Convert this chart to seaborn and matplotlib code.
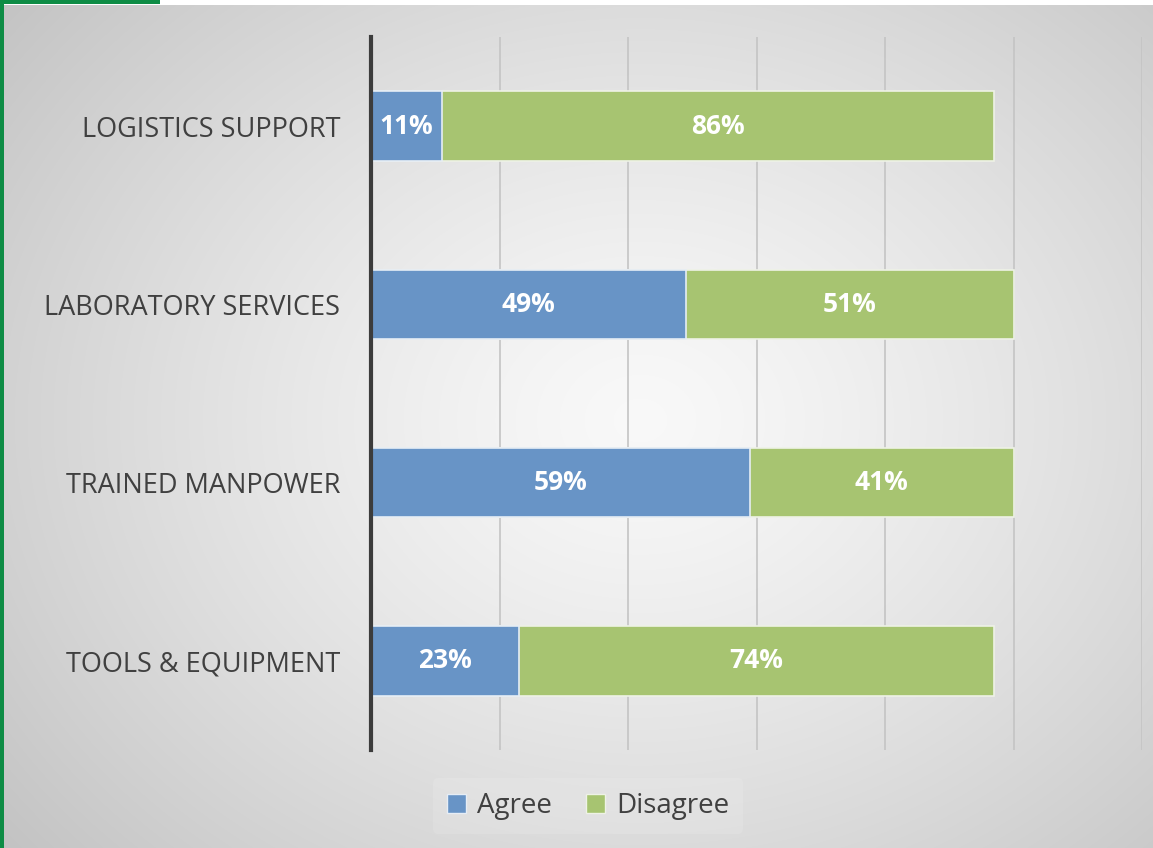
import numpy as np
import pandas as pd
import matplotlib
matplotlib.use("Agg")
import matplotlib.pyplot as plt
from matplotlib.patches import Patch, Rectangle
import seaborn as sns

categories = ["LOGISTICS SUPPORT", "LABORATORY SERVICES", "TRAINED MANPOWER", "TOOLS & EQUIPMENT"]
agree = [11, 49, 59, 23]
disagree = [86, 51, 41, 74]
series_names = ["Agree", "Disagree"]

AGREE_COLOR = "#6894c6"
DISAGREE_COLOR = "#a7c471"
TEXT_COLOR = "#404040"

sns.set_theme(style="white")
plt.rcParams["font.family"] = ["Open Sans", "DejaVu Sans"]

df = pd.DataFrame({
    "category": categories,
    "agree": agree,
    "disagree": disagree,
})
df["total"] = df["agree"] + df["disagree"]

fig = plt.figure(figsize=(11.53, 8.48), dpi=100)

# radial grey backdrop
bg = fig.add_axes([0, 0, 1, 1], zorder=-10)
h, w = 848, 1153
yy, xx = np.mgrid[0:h, 0:w]
cx, cy = 640, 420
r = np.sqrt(((xx - cx) / 760.0) ** 2 + ((yy - cy) / 620.0) ** 2)
shade = 0.975 - 0.19 * np.clip(r, 0, 1.2) ** 1.3
bg.imshow(np.dstack([shade] * 3), extent=[0, 1, 0, 1], aspect="auto", origin="upper")
bg.set_axis_off()

# frame accents
fig.patches.append(Rectangle((0, 1 - 5 / 848), 1, 5 / 848, transform=fig.transFigure,
                             facecolor="white", edgecolor="none", zorder=-5))
fig.patches.append(Rectangle((0, 0), 4 / 1153, 1, transform=fig.transFigure,
                             facecolor="#0e8c45", edgecolor="none", zorder=-4))
fig.patches.append(Rectangle((0, 1 - 4 / 848), 160 / 1153, 4 / 848, transform=fig.transFigure,
                             facecolor="#0e8c45", edgecolor="none", zorder=-4))

ax = fig.add_axes([371 / 1153, 1 - 750 / 848, (1142 - 371) / 1153, (750 - 37) / 848])
ax.set_facecolor("none")

sns.barplot(data=df, x="total", y="category", orient="h", color=DISAGREE_COLOR,
            saturation=1, width=0.39, edgecolor="#eef2e6", linewidth=1.2, ax=ax, zorder=2)
sns.barplot(data=df, x="agree", y="category", orient="h", color=AGREE_COLOR,
            saturation=1, width=0.39, edgecolor="#e6edf5", linewidth=1.2, ax=ax, zorder=3)

for i, (a, d) in enumerate(zip(agree, disagree)):
    ax.text(a / 2, i, f"{a}%", ha="center", va="center", color="white",
            fontsize=19, fontweight="bold", zorder=5)
    ax.text(a + d / 2, i, f"{d}%", ha="center", va="center", color="white",
            fontsize=19, fontweight="bold", zorder=5)

ax.set_xlim(0, 120)
ax.set_ylim(3.5, -0.5)
ax.set_xticks([20, 40, 60, 80, 100, 120])
ax.grid(axis="x", color="#c4c4c4", linewidth=1.2, zorder=0)
ax.grid(axis="y", visible=False)
ax.set_axisbelow(True)
ax.tick_params(axis="x", length=0, labelbottom=False)
ax.tick_params(axis="y", length=0, pad=22, labelsize=19.5, labelcolor=TEXT_COLOR)
ax.set_xlabel("")
ax.set_ylabel("")
for side in ["top", "right", "bottom"]:
    ax.spines[side].set_visible(False)
ax.spines["left"].set_color("#3c3c3c")
ax.spines["left"].set_linewidth(3)
ax.spines["left"].set_zorder(6)

handles = [Patch(facecolor=AGREE_COLOR, edgecolor="#e6edf5"),
           Patch(facecolor=DISAGREE_COLOR, edgecolor="#eef2e6")]
leg = fig.legend(handles, series_names, loc="center", bbox_to_anchor=(588 / 1153, 1 - 806 / 848),
                 ncol=2, frameon=True, fontsize=20, handlelength=0.7, handleheight=0.7,
                 handletextpad=0.4, columnspacing=1.2, borderpad=0.5)
leg.get_frame().set_facecolor("white")
leg.get_frame().set_alpha(0.12)
leg.get_frame().set_edgecolor("none")
for t in leg.get_texts():
    t.set_color(TEXT_COLOR)

fig.savefig("out.png", dpi=100)
